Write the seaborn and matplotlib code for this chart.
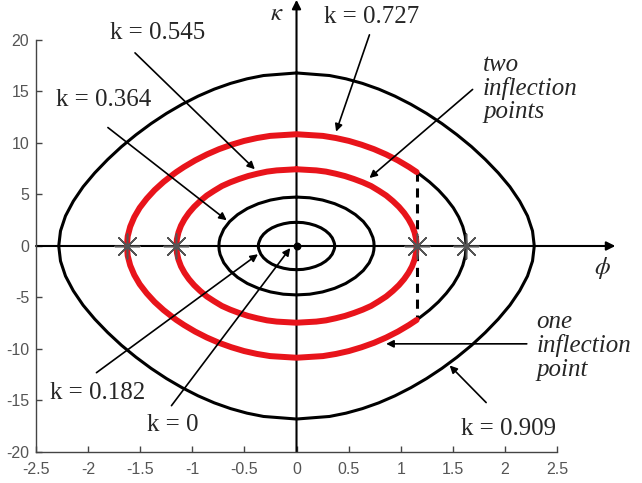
import numpy as np
import matplotlib
matplotlib.use('Agg')
import matplotlib.pyplot as plt
import seaborn as sns

# upper-right quarter of each closed curve (phi, kappa)
phi_0182 = [0, 0.063, 0.124, 0.182, 0.235, 0.279, 0.316, 0.343, 0.359, 0.365, 0.366]
kap_0182 = [2.3, 2.27, 2.16, 1.99, 1.76, 1.48, 1.15, 0.79, 0.40, 0.20, 0]

phi_0364 = [0, 0.127, 0.250, 0.366, 0.472, 0.565, 0.641, 0.698, 0.733, 0.742, 0.745]
kap_0364 = [4.75, 4.68, 4.46, 4.11, 3.64, 3.05, 2.38, 1.63, 0.83, 0.41, 0]

phi_0545 = [0, 0.190, 0.283, 0.375, 0.465, 0.552, 0.636, 0.716, 0.791, 0.861, 0.925,
            0.983, 1.033, 1.075, 1.109, 1.133, 1.148, 1.153]
kap_0545 = [7.45, 7.34, 7.22, 7.02, 6.79, 6.50, 6.18, 5.82, 5.36, 4.90, 4.36,
            3.80, 3.21, 2.60, 1.97, 1.32, 0.65, 0]

# index 9 = point where the curve turns from red to black (dashed line)
phi_0727 = [0, 0.253, 0.379, 0.503, 0.625, 0.744, 0.860, 0.973, 1.080, 1.153, 1.181,
            1.276, 1.362, 1.438, 1.505, 1.557, 1.596, 1.620, 1.628]
kap_0727 = [10.85, 10.69, 10.48, 10.20, 9.83, 9.40, 8.89, 8.31, 7.67, 7.18, 6.97,
            6.22, 5.43, 4.59, 3.71, 2.81, 1.88, 0.95, 0]

phi_0909 = [0, 0.317, 0.475, 0.632, 0.789, 0.944, 1.097, 1.248, 1.396, 1.540, 1.680,
            1.812, 1.936, 2.048, 2.142, 2.217, 2.265, 2.282]
kap_0909 = [16.8, 16.55, 16.23, 15.79, 15.23, 14.55, 13.76, 12.87, 11.88, 10.80, 9.64,
            8.40, 7.10, 5.75, 4.35, 2.92, 1.46, 0]

cross_phi = [-1.628, -1.153, 1.153, 1.628]

x_ticks = [-2.5, -2, -1.5, -1, -0.5, 0, 0.5, 1, 1.5, 2, 2.5]
x_labels = ['-2.5', '-2', '-1.5', '-1', '-0.5', '0', '0.5', '1', '1.5', '2', '2.5']
y_ticks = [-20, -15, -10, -5, 0, 5, 10, 15, 20]
y_labels = ['-20', '-15', '-10', '-5', '0', '5', '10', '15', '20']


def loop(phi, kap):
    phi = np.array(phi)
    kap = np.array(kap)
    x = np.concatenate([phi, phi[::-1], -phi, -phi[::-1]])
    y = np.concatenate([kap, -kap[::-1], -kap, kap[::-1]])
    return x, y


sns.set_style('ticks')
plt.rcParams['font.family'] = ['Liberation Sans', 'DejaVu Sans']
plt.rcParams['mathtext.fontset'] = 'stix'
plt.rcParams['axes.unicode_minus'] = False
plt.rcParams['lines.solid_joinstyle'] = 'round'
plt.rcParams['lines.solid_capstyle'] = 'round'

fig = plt.figure(figsize=(6.42, 4.83), dpi=100)
ax = fig.add_axes([0.0561, 0.0642, 0.8115, 0.853])

black_lw = 2.2
red_lw = 4.3
red = '#e8141b'

for p, k in [(phi_0182, kap_0182), (phi_0364, kap_0364), (phi_0909, kap_0909)]:
    x, y = loop(p, k)
    sns.lineplot(x=x, y=y, sort=False, estimator=None, color='black', lw=black_lw, ax=ax, zorder=3)

x, y = loop(phi_0545, kap_0545)
sns.lineplot(x=x, y=y, sort=False, estimator=None, color=red, lw=red_lw, ax=ax, zorder=4)

# k = 0.727 : red except the right part beyond the dashed line
j = 9
p = np.array(phi_0727)
k = np.array(kap_0727)
rx = np.concatenate([p[:j + 1][::-1], -p, -p[::-1], p[:j + 1]])
ry = np.concatenate([k[:j + 1][::-1], k, -k[::-1], -k[:j + 1]])
sns.lineplot(x=rx, y=ry, sort=False, estimator=None, color=red, lw=red_lw, ax=ax, zorder=4)
bx = np.concatenate([p[j:], p[j:][::-1]])
by = np.concatenate([k[j:], -k[j:][::-1]])
sns.lineplot(x=bx, y=by, sort=False, estimator=None, color='black', lw=black_lw, ax=ax, zorder=3)
ax.plot([p[j], p[j]], [k[j], -k[j]], color='black', lw=2.2, ls=(0, (3, 2.2)),
        solid_capstyle='butt', dash_capstyle='butt', zorder=3)

# crossing markers and k = 0 point
ax.scatter(cross_phi, [0] * len(cross_phi), marker=(8, 2, 0), s=320, color='#555555',
           linewidths=1.1, zorder=6)
ax.scatter([0], [0], s=22, color='black', zorder=6)

# phi and kappa axes with arrows
ax.annotate('', xy=(3.06, 0), xytext=(-2.5, 0), annotation_clip=False,
            arrowprops=dict(arrowstyle='-|>', color='black', lw=1.5, mutation_scale=13,
                            shrinkA=0, shrinkB=0), zorder=2)
ax.annotate('', xy=(0, 23.9), xytext=(0, -20), annotation_clip=False,
            arrowprops=dict(arrowstyle='-|>', color='black', lw=1.5, mutation_scale=13,
                            shrinkA=0, shrinkB=0), zorder=2)
ax.text(-0.19, 22.6, r'$\kappa$', fontsize=18, ha='center', va='center', clip_on=False)
ax.text(2.94, -2.1, r'$\phi$', fontsize=18, ha='center', va='center', clip_on=False)

# labels and pointer arrows
arr = dict(arrowstyle='-|>', color='black', lw=1.2, mutation_scale=11, shrinkA=0, shrinkB=0)
lab = dict(fontsize=18, family=['Liberation Serif', 'DejaVu Serif'], ha='center', va='center')
notes = [
    ('k = 0.545', (-1.33, 20.7), (-1.55, 18.75), (-0.40, 7.45)),
    ('k = 0.364', (-1.85, 14.2), (-1.81, 11.5), (-0.67, 2.5)),
    ('k = 0.727', (0.72, 22.2), (0.70, 20.5), (0.38, 11.1)),
    ('k = 0.182', (-1.91, -14.3), (-1.92, -12.3), (-0.37, -0.8)),
    ('k = 0', (-1.19, -17.4), (-1.20, -15.5), (-0.06, -0.2)),
    ('k = 0.909', (2.03, -17.8), (1.82, -15.2), (1.47, -11.6)),
]
for txt, tpos, a0, a1 in notes:
    ax.text(*tpos, txt, clip_on=False, **lab)
    ax.annotate('', xy=a1, xytext=a0, arrowprops=arr, annotation_clip=False, zorder=5)

ital = dict(fontsize=18, family=['Liberation Serif', 'DejaVu Serif'], style='italic',
            ha='left', va='center', linespacing=1.08)
ax.text(1.79, 15.3, 'two\ninflection\npoints', clip_on=False, **ital)
ax.annotate('', xy=(0.70, 6.6), xytext=(1.69, 15.2), arrowprops=arr, annotation_clip=False, zorder=5)
ax.text(2.30, -9.7, 'one\ninflection\npoint', clip_on=False, **ital)
ax.annotate('', xy=(0.86, -9.5), xytext=(2.21, -9.5), arrowprops=arr, annotation_clip=False, zorder=5)

ax.set_xlim(-2.5, 2.5)
ax.set_ylim(-20, 20)
ax.set_xticks(x_ticks)
ax.set_xticklabels(x_labels)
ax.set_yticks(y_ticks)
ax.set_yticklabels(y_labels)
ax.tick_params(direction='in', length=4, width=1, color='#444444', labelcolor='#555555',
               labelsize=11.5)
ax.tick_params(axis='x', pad=7)
ax.tick_params(axis='y', pad=5)
sns.despine(ax=ax)
for s in ['left', 'bottom']:
    ax.spines[s].set_color('#444444')
    ax.spines[s].set_linewidth(1)
ax.set_xlabel('')
ax.set_ylabel('')

fig.savefig('out.png', dpi=100)
